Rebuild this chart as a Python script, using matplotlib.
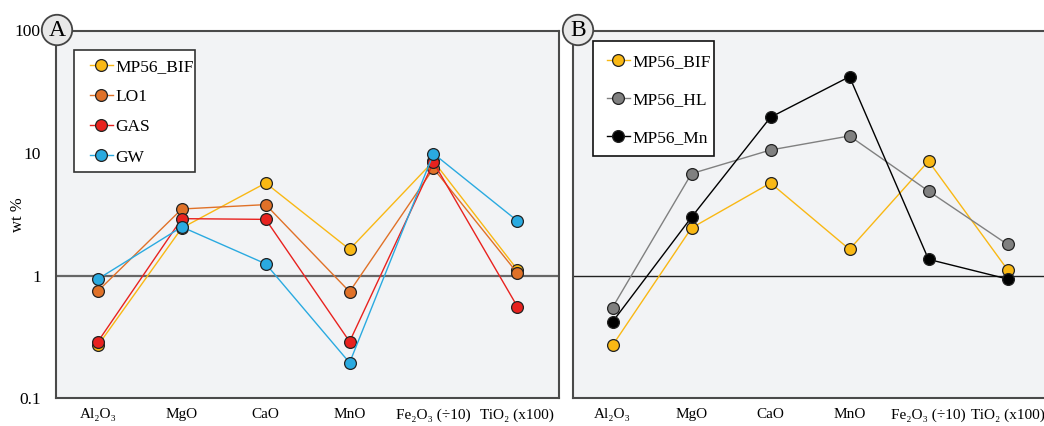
import matplotlib
matplotlib.use("Agg")
import matplotlib.pyplot as plt
from matplotlib.patches import Rectangle

plt.rcParams['font.family'] = ['Liberation Serif', 'DejaVu Serif']

categories = ["Al₂O₃", "MgO", "CaO", "MnO", "Fe₂O₃ (÷10)", "TiO₂ (x100)"]

# Panel A
mp56_bif = [0.27, 2.45, 5.7, 1.64, 8.6, 1.12]
lo1 = [0.75, 3.5, 3.8, 0.74, 7.5, 1.05]
gas = [0.29, 2.92, 2.88, 0.29, 8.4, 0.56]
gw = [0.94, 2.5, 1.25, 0.195, 9.9, 2.8]

# Panel B
mp56_hl = [0.55, 6.8, 10.6, 13.8, 4.9, 1.8]
mp56_mn = [0.42, 3.0, 19.6, 42.0, 1.36, 0.94]

yticks = [0.1, 1, 10, 100]
ytick_labels = ["0.1", "1", "10", "100"]

col_bif = "#F9B814"
col_lo1 = "#E07128"
col_gas = "#E8221F"
col_gw = "#2AAAE0"
col_hl = "#808080"
col_mn = "#000000"

W, H = 1044, 426
fig = plt.figure(figsize=(W / 100, H / 100), dpi=100)

def px_axes(left, right, top, bottom):
    return fig.add_axes([left / W, 1 - bottom / H, (right - left) / W, (bottom - top) / H])

A_L, A_R, TOP, BOT = 56, 559.3, 30.5, 398.3
B_L, B_R = 573, 1047
axA = px_axes(A_L, A_R, TOP, BOT)
axB = px_axes(B_L, B_R, TOP, BOT)

x = list(range(len(categories)))

def style(ax, hl_color, hl_lw):
    ax.set_facecolor("#F2F3F5")
    ax.set_yscale("log")
    ax.set_ylim(0.1, 100)
    ax.set_xlim(-0.5, 5.5)
    ax.set_xticks(x)
    ax.set_xticklabels(categories, fontsize=11)
    ax.tick_params(axis="both", length=0)
    ax.tick_params(axis="x", pad=7)
    ax.minorticks_off()
    ax.set_yticks(yticks)
    for s in ax.spines.values():
        s.set_color("#4a4a4a")
        s.set_linewidth(1.5)
    ax.axhline(1, color=hl_color, lw=hl_lw, zorder=1)

style(axA, "#666666", 1.6)
style(axB, "#222222", 1.0)
axA.set_yticklabels(ytick_labels, fontsize=12.5)
axA.tick_params(axis="y", pad=11)
axB.set_yticklabels([])
axA.set_ylabel("wt %", fontsize=12)
axA.yaxis.set_label_coords(-0.06, 0.5)

mk = dict(marker="o", markersize=8.5, markeredgecolor="#222222", markeredgewidth=0.9, lw=1.0)

for vals, c, lab in [(mp56_bif, col_bif, "MP56_BIF"), (lo1, col_lo1, "LO1"),
                     (gas, col_gas, "GAS"), (gw, col_gw, "GW")]:
    axA.plot(x, vals, color=c, markerfacecolor=c, label=lab, zorder=3, **mk)

for vals, c, lab in [(mp56_bif, col_bif, "MP56_BIF"), (mp56_hl, col_hl, "MP56_HL"),
                     (mp56_mn, col_mn, "MP56_Mn")]:
    axB.plot(x, vals, color=c, markerfacecolor=c, label=lab, zorder=3, **mk)

def legend_box(ax, box, handle_xy, spacing, ec):
    # box: (left, right, top, bottom) in figure pixels
    l, r, t, b = box
    rect = Rectangle((l / W, 1 - b / H), (r - l) / W, (b - t) / H, transform=fig.transFigure,
                     fc="white", ec=ec, lw=1.2, zorder=4.5, clip_on=False)
    ax.add_patch(rect)
    hx, hy = handle_xy
    leg = ax.legend(loc="upper left", bbox_to_anchor=(hx / W, 1 - hy / H),
                    bbox_transform=fig.transFigure, borderaxespad=0, borderpad=0,
                    fontsize=12.5, frameon=False, handlelength=1.32,
                    handletextpad=0.12, labelspacing=spacing)
    leg.set_zorder(6)
    return leg

legend_box(axA, (74, 195, 50, 172), (90, 58.5), 0.815, "#333333")
legend_box(axB, (593, 714, 41, 156), (607, 53.8), 1.27, "#111111")

for cx, letter in [(57, "A"), (578, "B")]:
    fig.text(cx / W, 1 - 30 / H, letter, ha="center", va="center", fontsize=17,
             bbox=dict(boxstyle="circle,pad=0.2", fc="#E8E8E8", ec="#444444", lw=1.3),
             zorder=10)

fig.savefig("out.png", dpi=100)
